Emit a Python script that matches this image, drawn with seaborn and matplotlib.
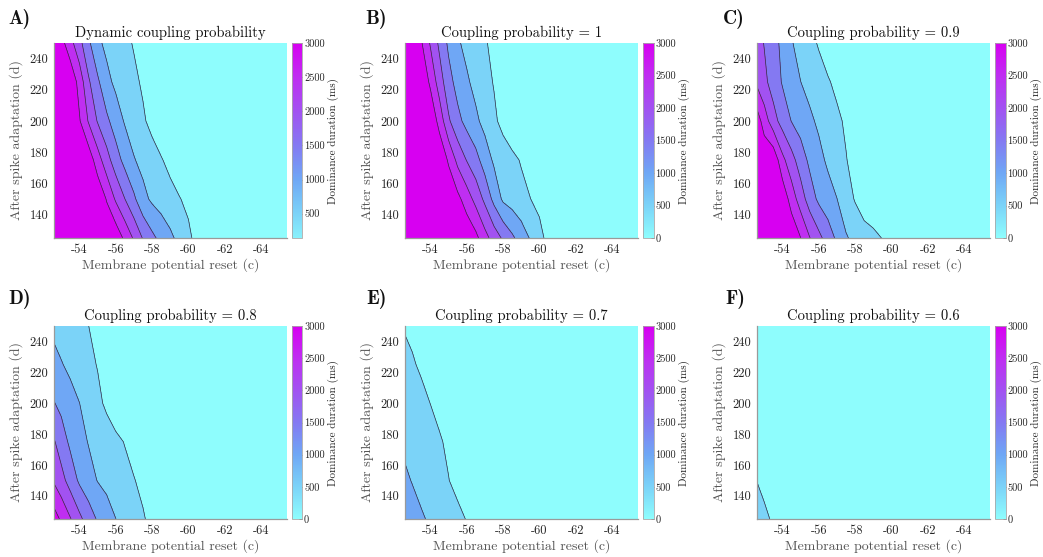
import numpy as np
import matplotlib
matplotlib.use("Agg")
import matplotlib.pyplot as plt
import seaborn as sns
from matplotlib.colors import Normalize
from matplotlib.cm import ScalarMappable

# ---------------- data ----------------
# membrane potential reset (c) grid and after-spike adaptation (d) grid
c_reset = [-52.6, -53.0, -53.5, -54.0, -54.5, -55.0, -55.5, -56.0, -56.5, -57.0,
           -57.5, -58.0, -58.5, -59.0, -59.5, -60.0, -60.5, -61.0, -65.4]
d_adapt = [125, 150, 175, 200, 225, 250]

# dominance duration (ms); one row per d value (125 ... 250), one column per c value
dur_dynamic = [
    [3400, 3400, 3400, 3400, 3400, 3400, 3400, 3345, 2891, 2431, 1959, 1621, 1346, 1106, 856, 598, 340, 160, 144],
    [3400, 3400, 3400, 3400, 3400, 3400, 2967, 2431, 2005, 1590, 1145, 912, 782, 653, 523, 394, 264, 150, 150],
    [3400, 3400, 3400, 3400, 3314, 2733, 2200, 1727, 1344, 1031, 855, 693, 532, 371, 210, 150, 150, 150, 150],
    [3400, 3400, 3400, 3048, 2459, 1964, 1607, 1260, 953, 758, 562, 367, 200, 150, 150, 150, 150, 150, 150],
    [3400, 3400, 3400, 2814, 2076, 1591, 1136, 894, 742, 591, 439, 287, 180, 150, 150, 150, 150, 150, 150],
    [3400, 3184, 2670, 2160, 1600, 1100, 888, 747, 607, 466, 326, 185, 150, 150, 150, 150, 150, 150, 150],
]
dur_p10 = [
    [3400, 3400, 3400, 3400, 3400, 3400, 3400, 3400, 3136, 2682, 2280, 1921, 1592, 1272, 957, 652, 348, 150, 150],
    [3400, 3400, 3400, 3400, 3400, 3400, 3141, 2750, 2336, 1882, 1352, 915, 779, 642, 506, 369, 232, 150, 150],
    [3400, 3400, 3400, 3400, 3400, 2932, 2359, 1976, 1671, 1261, 921, 768, 616, 463, 311, 160, 150, 150, 150],
    [3400, 3400, 3400, 3400, 2821, 2074, 1641, 1342, 1094, 845, 595, 345, 150, 150, 150, 150, 150, 150, 150],
    [3400, 3400, 3400, 2907, 2245, 1681, 1317, 1069, 859, 664, 469, 273, 150, 150, 150, 150, 150, 150, 150],
    [3400, 3400, 3049, 2444, 1891, 1404, 1062, 868, 706, 545, 384, 223, 150, 150, 150, 150, 150, 150, 150],
]
dur_p09 = [
    [3400, 3400, 3400, 3400, 3400, 3010, 2519, 2142, 1772, 1406, 1043, 883, 751, 618, 487, 354, 222, 150, 150],
    [3400, 3400, 3400, 3369, 2774, 2255, 1761, 1398, 1203, 1007, 736, 462, 187, 150, 150, 150, 150, 150, 150],
    [3400, 3400, 3394, 2636, 2180, 1755, 1391, 1144, 917, 720, 523, 327, 150, 150, 150, 150, 150, 150, 150],
    [3262, 2763, 2198, 1799, 1484, 1289, 1093, 916, 755, 593, 432, 271, 150, 150, 150, 150, 150, 150, 150],
    [2397, 2123, 1781, 1459, 1229, 1005, 848, 697, 545, 394, 242, 150, 150, 150, 150, 150, 150, 150, 150],
    [2209, 1977, 1686, 1377, 1034, 831, 643, 455, 267, 150, 150, 150, 150, 150, 150, 150, 150, 150, 150],
]
dur_p08 = [
    [3234, 2922, 2531, 2123, 1760, 1447, 1226, 1004, 849, 695, 540, 386, 232, 150, 150, 150, 150, 150, 150],
    [2437, 2176, 1791, 1418, 1191, 982, 866, 750, 634, 518, 403, 287, 171, 150, 150, 150, 150, 150, 150],
    [2047, 1745, 1398, 1177, 975, 851, 728, 604, 480, 356, 232, 150, 150, 150, 150, 150, 150, 150, 150],
    [1522, 1370, 1186, 1005, 805, 609, 414, 218, 150, 150, 150, 150, 150, 150, 150, 150, 150, 150, 150],
    [1192, 1032, 886, 750, 614, 478, 342, 206, 150, 150, 150, 150, 150, 150, 150, 150, 150, 150, 150],
    [850, 777, 685, 593, 502, 420, 340, 260, 180, 150, 150, 150, 150, 150, 150, 150, 150, 150, 150],
]
dur_p07 = [
    [1258, 1166, 1052, 938, 824, 710, 596, 482, 368, 254, 150, 150, 150, 150, 150, 150, 150, 150, 150],
    [1070, 981, 863, 745, 627, 509, 391, 273, 155, 150, 150, 150, 150, 150, 150, 150, 150, 150, 150],
    [912, 833, 734, 635, 536, 437, 338, 239, 150, 150, 150, 150, 150, 150, 150, 150, 150, 150, 150],
    [756, 682, 589, 496, 403, 310, 217, 150, 150, 150, 150, 150, 150, 150, 150, 150, 150, 150, 150],
    [600, 534, 452, 370, 288, 206, 150, 150, 150, 150, 150, 150, 150, 150, 150, 150, 150, 150, 150],
    [470, 430, 380, 330, 280, 230, 180, 150, 150, 150, 150, 150, 150, 150, 150, 150, 150, 150, 150],
]
dur_p06 = [
    [610, 547, 469, 390, 312, 233, 155, 150, 150, 150, 150, 150, 150, 150, 150, 150, 150, 150, 150],
    [495, 440, 380, 320, 260, 200, 150, 150, 150, 150, 150, 150, 150, 150, 150, 150, 150, 150, 150],
    [430, 385, 330, 275, 220, 165, 150, 150, 150, 150, 150, 150, 150, 150, 150, 150, 150, 150, 150],
    [380, 340, 290, 240, 190, 150, 150, 150, 150, 150, 150, 150, 150, 150, 150, 150, 150, 150, 150],
    [340, 300, 255, 210, 165, 150, 150, 150, 150, 150, 150, 150, 150, 150, 150, 150, 150, 150, 150],
    [300, 265, 225, 185, 150, 150, 150, 150, 150, 150, 150, 150, 150, 150, 150, 150, 150, 150, 150],
]

panel_letters = ["A)", "B)", "C)", "D)", "E)", "F)"]
panel_titles = ["Dynamic coupling probability", "Coupling probability = 1",
                "Coupling probability = 0.9", "Coupling probability = 0.8",
                "Coupling probability = 0.7", "Coupling probability = 0.6"]
panel_data = [dur_dynamic, dur_p10, dur_p09, dur_p08, dur_p07, dur_p06]
cbar_min = [144, 0, 0, 0, 0, 0]

fill_levels = [0, 500, 1000, 1500, 2000, 2500, 3000, 3500]
line_levels = [500, 1000, 1500, 2000, 2500, 3000]
x_ticks = [-54, -56, -58, -60, -62, -64]
x_tick_labels = ["-54", "-56", "-58", "-60", "-62", "-64"]
y_ticks = [140, 160, 180, 200, 220, 240]
cbar_ticks_full = [0, 500, 1000, 1500, 2000, 2500, 3000]

# ---------------- style ----------------
sns.set_theme(style="white")
plt.rcParams["font.family"] = ["cmr10", "DejaVu Serif"]
plt.rcParams["axes.unicode_minus"] = False
plt.rcParams["mathtext.fontset"] = "cm"

band_colors = ["#8efdfd", "#7bd3f8", "#6fa7f5", "#8479f2", "#a252f1", "#bf2ef1", "#d700f1"]
cmap = sns.blend_palette(band_colors, as_cmap=True)

fig = plt.figure(figsize=(10.43, 5.57), dpi=100)
W, H = 1043.0, 557.0

ax_left_px = [54, 405, 757]
cb_left_px = [291.5, 643, 995]
rows_px = [(43, 238), (326, 519)]

X, Y = np.meshgrid(c_reset, d_adapt)

for i in range(6):
    r, col = divmod(i, 3)
    top, bot = rows_px[r]
    ax = fig.add_axes([ax_left_px[col] / W, 1 - bot / H, 232.5 / W, (bot - top) / H])
    Z = np.array(panel_data[i], dtype=float)
    ax.contourf(X, Y, Z, levels=fill_levels, colors=band_colors)
    ax.contour(X, Y, Z, levels=line_levels, colors="#2e2e3a", linewidths=0.5)
    ax.set_xlim(-52.6, -65.4)
    ax.set_ylim(125, 250)
    ax.set_xticks(x_ticks)
    ax.set_xticklabels(x_tick_labels)
    ax.set_yticks(y_ticks)
    ax.tick_params(length=0, labelsize=9, colors="#262626", pad=4)
    for s in ["top", "right"]:
        ax.spines[s].set_visible(False)
    for s in ["left", "bottom"]:
        ax.spines[s].set_color("#9a9a9a")
        ax.spines[s].set_linewidth(0.9)
    ax.set_xlabel("Membrane potential reset (c)", fontsize=10, color="#555555", labelpad=2)
    ax.set_ylabel("After spike adaptation (d)", fontsize=10, color="#555555", labelpad=5)
    ax.set_title(panel_titles[i], fontsize=10.5, color="#111111", pad=4)

    cax = fig.add_axes([cb_left_px[col] / W, 1 - bot / H, 10.5 / W, (bot - top) / H])
    cb = fig.colorbar(ScalarMappable(norm=Normalize(0, 3000), cmap=cmap), cax=cax)
    ticks = [t for t in cbar_ticks_full if t >= cbar_min[i]]
    cb.set_ticks(ticks)
    cb.set_ticklabels([str(t) for t in ticks])
    cax.set_ylim(cbar_min[i], 3000)
    cax.tick_params(direction="in", length=2, width=0.6, color="#444444",
                    labelsize=7.5, labelcolor="#262626", pad=1.5)
    cb.outline.set_edgecolor("#a8a8a8")
    cb.outline.set_linewidth(0.6)
    cb.set_label("Dominance duration (ms)", fontsize=8, color="#262626", labelpad=2)

letter_pos = [(8, 24), (365, 24), (723, 24), (8, 304), (366, 304), (725, 304)]
for (px, py), lab in zip(letter_pos, panel_letters):
    fig.text(px / W, 1 - py / H, lab, fontfamily="cmb10", fontsize=14,
             color="#111111", va="baseline", ha="left")

fig.savefig("out.png", dpi=100)
